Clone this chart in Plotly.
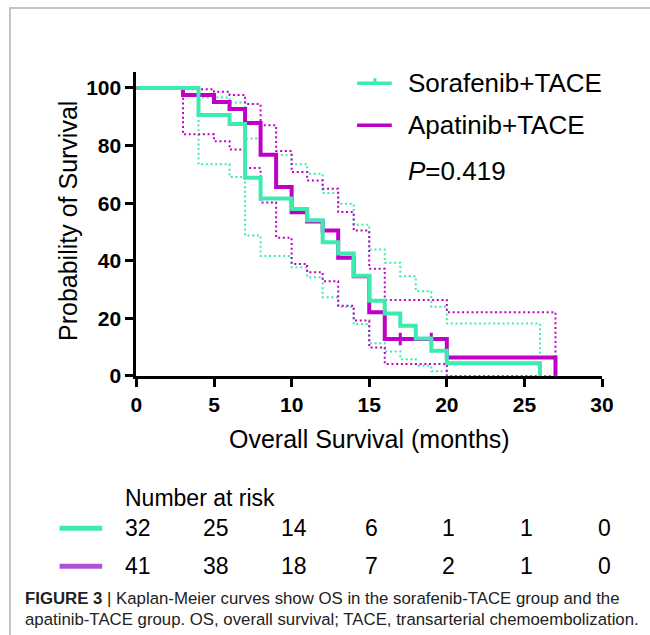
import plotly.graph_objects as go

# ---- data ----
sor_t = [0, 4, 6, 7, 8, 10, 11, 12, 13, 14, 15, 16, 17, 18, 19, 20, 26]
sor_s = [100, 90.6, 87.5, 68.8, 61.6, 58.0, 54.1, 46.4, 42.5, 34.8, 26.1, 21.7, 17.4, 13.0, 8.7, 4.4, 0]
sor_up = [100, 96.7, 95.0, 82.5, 76.7, 73.5, 70.2, 63.5, 59.8, 52.5, 43.9, 39.3, 34.6, 29.4, 24.0, 18.2, 0]
sor_lo = [100, 73.5, 69.1, 48.8, 41.6, 37.7, 34.3, 27.3, 24.0, 18.0, 11.3, 8.5, 5.8, 3.5, 1.6, 0, 0]

apa_t = [0, 3, 5, 6, 7, 8, 9, 10, 11, 12, 13, 14, 15, 16, 20, 27]
apa_s = [100, 97.6, 95.1, 92.7, 87.8, 76.8, 65.6, 56.8, 53.6, 50.5, 41.0, 34.6, 22.1, 12.8, 6.4, 0]
apa_up = [100, 99.6, 98.7, 97.6, 94.4, 87.1, 78.1, 70.8, 67.9, 65.0, 56.9, 50.5, 37.2, 26.4, 22.1, 0]
apa_lo = [100, 83.9, 81.5, 78.6, 72.2, 60.2, 48.0, 38.9, 36.0, 32.9, 24.4, 19.2, 9.9, 4.1, 0, 0]
apa_cens_t = [17, 19]
apa_cens_s = [12.8, 12.8]

risk_times = [0, 5, 10, 15, 20, 25, 30]
risk_sor = [32, 25, 14, 6, 1, 1, 0]
risk_apa = [41, 38, 18, 7, 2, 1, 0]

x_ticks = [0, 5, 10, 15, 20, 25, 30]
y_ticks = [0, 20, 40, 60, 80, 100]

names = ["Sorafenib+TACE", "Apatinib+TACE"]
p_text = "<i>P</i>=0.419"
x_title = "Overall Survival (months)"
y_title = "Probability of Survival"
caption1 = "<b>FIGURE 3</b> | Kaplan-Meier curves show OS in the sorafenib-TACE group and the"
caption2 = "apatinib-TACE group. OS, overall survival; TACE, transarterial chemoembolization."

GREEN = "#3DEBAF"
PURPLE = "#C000C8"
PURPLE_RISK = "#B050D8"
FONT = "Liberation Sans, Arial, sans-serif"
NARROW = "Liberation Sans Narrow, Liberation Sans, Arial, sans-serif"
DOT = "2px,2.7px"

W, H = 650, 635
S = 1.02  # layout scale
def px(x):
    return x * S / W
def py(y):
    return 1 - y * S / H

fig = go.Figure()

# confidence bands (dotted)
for t, v, c in [(sor_t, sor_up, GREEN), (sor_t, sor_lo, GREEN),
                (apa_t, apa_up, PURPLE), (apa_t, apa_lo, PURPLE)]:
    fig.add_trace(go.Scatter(x=t, y=v, mode="lines", line_shape="hv",
                             line=dict(color=c, width=2, dash=DOT),
                             showlegend=False, hoverinfo="skip"))

# survival curves
fig.add_trace(go.Scatter(x=apa_t, y=apa_s, mode="lines", line_shape="hv",
                         line=dict(color=PURPLE, width=4), name=names[1], showlegend=False))
fig.add_trace(go.Scatter(x=apa_cens_t, y=apa_cens_s, mode="markers",
                         marker=dict(symbol="line-ns", size=9, line=dict(color=PURPLE, width=3)),
                         showlegend=False, hoverinfo="skip"))
fig.add_trace(go.Scatter(x=sor_t, y=sor_s, mode="lines", line_shape="hv",
                         line=dict(color=GREEN, width=4), name=names[0], showlegend=False))

x0, x1 = 131.5, 601
y0, y1 = 375, 72
fig.update_layout(
    width=W, height=H, margin=dict(l=0, r=0, t=0, b=0),
    paper_bgcolor="white", plot_bgcolor="white",
    font=dict(family=FONT, color="black"),
    xaxis=dict(domain=[px(x0), px(x1)], range=[0, 30], tickvals=x_ticks,
               ticks="outside", ticklen=8, tickwidth=3, tickcolor="black",
               showline=True, linewidth=3, linecolor="black", showgrid=False, zeroline=False,
               tickfont=dict(size=21, family=FONT, weight="bold")),
    yaxis=dict(domain=[py(y0), py(y1)], range=[0, 105.5], tickvals=y_ticks,
               ticks="outside", ticklen=8, tickwidth=3, tickcolor="black",
               showline=True, linewidth=3, linecolor="black", showgrid=False, zeroline=False,
               tickfont=dict(size=21, family=FONT, weight="bold")),
)

shapes = []
annots = []
# axis titles
annots.append(dict(x=px(367), y=py(438), xref="paper", yref="paper", text=x_title,
                   showarrow=False, xanchor="center", yanchor="middle",
                   font=dict(size=25, family=FONT, color="black")))
annots.append(dict(x=px(62), y=py(220), xref="paper", yref="paper", text=y_title,
                   showarrow=False, xanchor="center", yanchor="middle", textangle=-90,
                   font=dict(size=25, family=FONT, color="black")))
# legend
for yy, c, nm in [(83, GREEN, names[0]), (125, PURPLE, names[1])]:
    shapes.append(dict(type="line", xref="paper", yref="paper", x0=px(354), x1=px(389),
                       y0=py(yy), y1=py(yy), line=dict(color=c, width=3.5)))
    annots.append(dict(x=px(403), y=py(yy), xref="paper", yref="paper", text=nm,
                       showarrow=False, xanchor="left", yanchor="middle",
                       font=dict(size=26, family=FONT, color="black")))
shapes.append(dict(type="line", xref="paper", yref="paper", x0=px(372), x1=px(372),
                   y0=py(83), y1=py(78), line=dict(color=GREEN, width=3)))
annots.append(dict(x=px(403), y=py(171), xref="paper", yref="paper", text=p_text,
                   showarrow=False, xanchor="left", yanchor="middle",
                   font=dict(size=26, family=FONT, color="black")))

# number at risk
annots.append(dict(x=px(118), y=py(497), xref="paper", yref="paper", text="Number at risk",
                   showarrow=False, xanchor="left", yanchor="middle",
                   font=dict(size=23, family=FONT, color="black")))
for yy, c, vals in [(527, GREEN, risk_sor), (565, PURPLE_RISK, risk_apa)]:
    shapes.append(dict(type="line", xref="paper", yref="paper", x0=px(54), x1=px(97),
                       y0=py(yy), y1=py(yy), line=dict(color=c, width=5)))
    for t, v in zip(risk_times, vals):
        annots.append(dict(x=t, y=py(yy), xref="x", yref="paper", text=str(v),
                           showarrow=False, xanchor="center", yanchor="middle", xshift=2,
                           font=dict(size=23, family=FONT, color="black")))

# caption
annots.append(dict(x=px(17), y=py(597), xref="paper", yref="paper", text=caption1,
                   showarrow=False, xanchor="left", yanchor="middle",
                   font=dict(size=16.8, family=NARROW, color="#222222")))
annots.append(dict(x=px(17), y=py(618), xref="paper", yref="paper", text=caption2,
                   showarrow=False, xanchor="left", yanchor="middle",
                   font=dict(size=16.8, family=NARROW, color="#222222")))

# frame
shapes.append(dict(type="rect", xref="paper", yref="paper", x0=px(4), x1=px(680),
                   y0=py(680), y1=py(8), line=dict(color="#B4B4B4", width=1.5)))

fig.update_layout(shapes=shapes, annotations=annots)
fig.write_html("out.html", config={"displayModeBar": False},
               post_script="document.body.style.margin='0';document.body.style.overflow='hidden';")
